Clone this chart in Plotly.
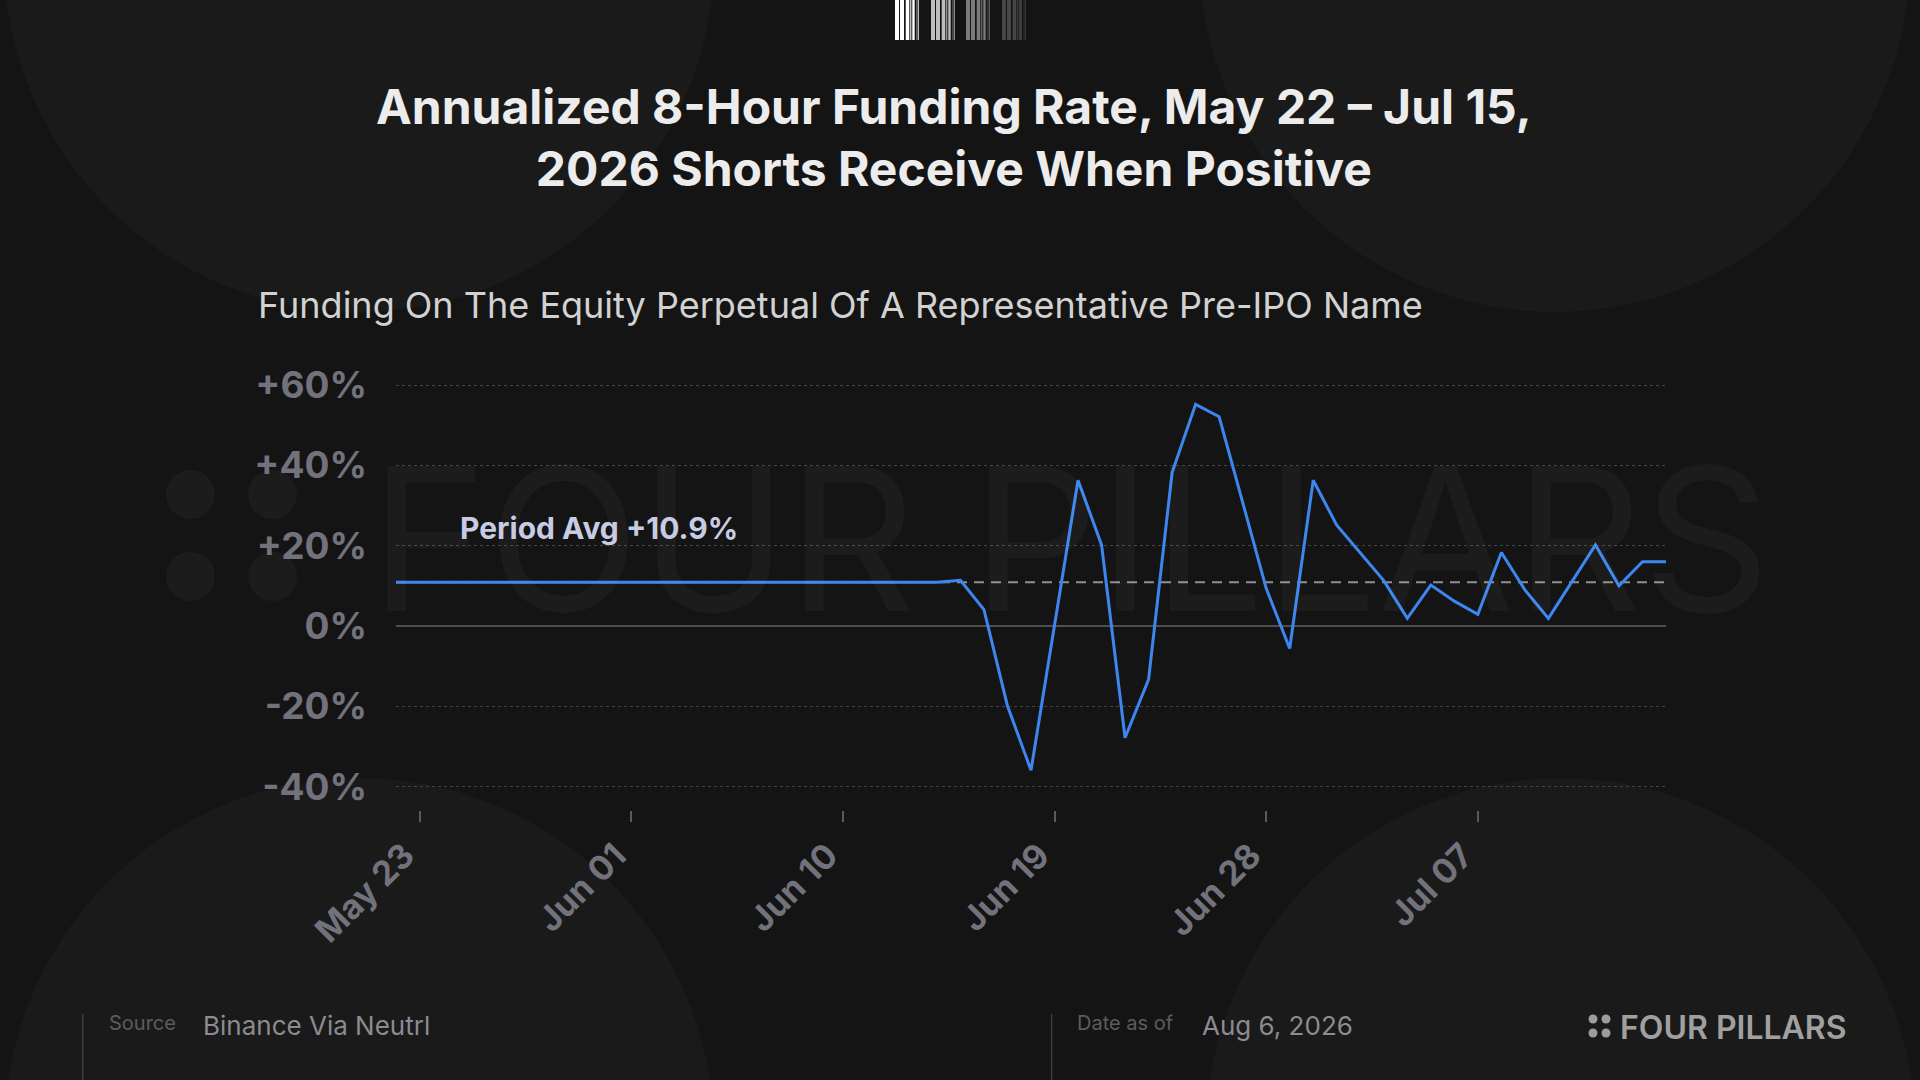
import plotly.graph_objects as go
import pandas as pd

# ---- data ----
start_date = "2026-05-22"
end_date = "2026-07-15"

# annualized 8h funding rate, daily, %
funding = [10.9] * 24 + [
    11.4, 4.1, -19.9, -35.9, 0.2, 36.3, 20.2, -27.8, -13.3, 38.2,
    55.2, 52.1, 30.8, 9.4, -5.6, 36.3, 25.1, 18.3, 11.3, 1.9,
    10.2, 6.2, 2.9, 18.3, 9.0, 1.9, 10.9, 20.2, 10.0, 16.0, 16.0,
]
dates = pd.date_range(start_date, end_date, freq="D")

period_avg = 10.9

x_tick_dates = ["2026-05-23", "2026-06-01", "2026-06-10", "2026-06-19", "2026-06-28", "2026-07-07"]
x_tick_text = ["May 23", "Jun 01", "Jun 10", "Jun 19", "Jun 28", "Jul 07"]
y_tick_vals = [-40, -20, 0, 20, 40, 60]
y_tick_text = ["-40%", "-20%", "0%", "+20%", "+40%", "+60%"]

title_text = "Annualized 8-Hour Funding Rate, May 22 \u2013 Jul 15,<br>2026 Shorts Receive When Positive"
subtitle_text = "Funding On The Equity Perpetual Of A Representative Pre-IPO Name"

# ---- canvas geometry (pixels) ----
W, H = 1920, 1080
ML, MR, MT, MB = 396, 254, 375, 270
PW = W - ML - MR
PH = H - MT - MB

BG = "#141414"
FONT = "Inter, 'Noto Sans', sans-serif"


def px(x):
    return (x - ML) / PW


def py(y):
    return (H - MB - y) / PH


fig = go.Figure()

# period average (dashed)
fig.add_trace(go.Scatter(
    x=[dates[0], dates[-1]], y=[period_avg, period_avg],
    mode="lines", line=dict(color="#8e8e98", width=2, dash="10px,7px"),
    hoverinfo="skip", showlegend=False,
))

# funding line
fig.add_trace(go.Scatter(
    x=dates, y=funding, mode="lines",
    line=dict(color="#3d86f0", width=3),
    showlegend=False,
    hovertemplate="%{x|%b %d}: %{y:+.1f}%<extra></extra>",
))

shapes = []

# background circles
for cx, cy in [(359, -43), (1555, -43), (359, 1133), (1561, 1133)]:
    r = 355
    shapes.append(dict(type="circle", xref="paper", yref="paper", layer="below",
                       x0=px(cx - r), x1=px(cx + r), y0=py(cy + r), y1=py(cy - r),
                       fillcolor="#1a1a1a", line=dict(width=0)))

# watermark dots
for cx, cy in [(190.5, 494.5), (272.5, 494.5), (190.5, 576.5), (272.5, 576.5)]:
    r = 24.5
    shapes.append(dict(type="circle", xref="paper", yref="paper", layer="below",
                       x0=px(cx - r), x1=px(cx + r), y0=py(cy + r), y1=py(cy - r),
                       fillcolor="#1c1c1c", line=dict(width=0)))

# barcode mark at top
stripes = [(0, 4), (5, 9), (10.7, 14.3), (15.3, 16.3), (17.3, 19.7), (21.7, 22.3), (23.3, 24)]
for gx, col in [(895, "#ffffff"), (931, "#bdbdbd"), (966, "#7a7a7a"), (1002, "#464646")]:
    for a, b in stripes:
        shapes.append(dict(type="rect", xref="paper", yref="paper",
                           x0=px(gx + a), x1=px(gx + b), y0=py(40), y1=py(0),
                           fillcolor=col, line=dict(width=0)))

# footer separators
for lx in [82.7, 1051.6]:
    shapes.append(dict(type="line", xref="paper", yref="paper",
                       x0=px(lx), x1=px(lx), y0=py(1014), y1=py(1080),
                       line=dict(color="#3c3c3c", width=1.5)))

# footer logo dots
for cx, cy in [(1593, 1019), (1606, 1019), (1593, 1033), (1606, 1033)]:
    r = 4.5
    shapes.append(dict(type="circle", xref="paper", yref="paper",
                       x0=px(cx - r), x1=px(cx + r), y0=py(cy + r), y1=py(cy - r),
                       fillcolor="#9c9c9c", line=dict(width=0)))

annotations = [
    # watermark
    dict(text="FOUR PILLARS", x=px(368), y=py(538), xanchor="left", yanchor="middle",
         font=dict(family=FONT, size=199, color="rgba(255,255,255,0.035)")),
    # title
    dict(text=title_text, x=px(954), y=py(137), xanchor="center", yanchor="middle",
         font=dict(family=FONT, size=48, color="#ececec", weight=700)),
    # subtitle
    dict(text=subtitle_text, x=px(256), y=py(305), xanchor="left", yanchor="middle",
         font=dict(family=FONT, size=36, color="#d2d2d2")),
    # average label
    dict(text="Period Avg +10.9%", x=px(458), y=py(528), xanchor="left", yanchor="middle",
         font=dict(family=FONT, size=30, color="#c8cce2", weight=700)),
    # footer
    dict(text="Source", x=px(107), y=py(1023), xanchor="left", yanchor="middle",
         font=dict(family=FONT, size=20, color="#5c5c5c")),
    dict(text="Binance Via Neutrl", x=px(201), y=py(1025), xanchor="left", yanchor="middle",
         font=dict(family=FONT, size=26, color="#8b8b90")),
    dict(text="Date as of", x=px(1075), y=py(1023), xanchor="left", yanchor="middle",
         font=dict(family=FONT, size=20, color="#5c5c5c")),
    dict(text="Aug 6, 2026", x=px(1200), y=py(1025), xanchor="left", yanchor="middle",
         font=dict(family=FONT, size=26, color="#8b8b90")),
    dict(text="FOUR PILLARS", x=px(1618), y=py(1027), xanchor="left", yanchor="middle",
         font=dict(family=FONT, size=32, color="#a0a0a0", weight=600)),
]
for a in annotations:
    a.update(xref="paper", yref="paper", showarrow=False)

fig.update_layout(
    width=W, height=H,
    margin=dict(l=ML, r=MR, t=MT, b=MB),
    paper_bgcolor=BG, plot_bgcolor="rgba(0,0,0,0)",
    shapes=shapes, annotations=annotations,
    showlegend=False,
    font=dict(family=FONT),
)

fig.update_xaxes(
    range=[dates[0], dates[-1]],
    tickvals=pd.to_datetime(x_tick_dates), ticktext=x_tick_text,
    tickangle=-45, showgrid=False, showline=False, zeroline=False,
    ticks="outside", ticklen=11, tickwidth=1.5, tickcolor="#5a5a5a",
    ticklabelstandoff=0, ticklabelshift=-15,
    tickfont=dict(family=FONT, size=34, color="#72727c", weight=700),
)

fig.update_yaxes(
    range=[-45.8, 62.5],
    tickvals=y_tick_vals, ticktext=y_tick_text,
    showgrid=True, gridcolor="#444444", gridwidth=1, griddash="3px,3px",
    zeroline=True, zerolinecolor="#4e4e4e", zerolinewidth=1.5,
    showline=False, ticks="", ticklabelstandoff=28,
    tickfont=dict(family=FONT, size=37, color="#72727c", weight=700),
)

fig.write_html("out.html", config={"displayModeBar": False},
               post_script="document.body.style.margin='0';document.body.style.background='#141414';")
